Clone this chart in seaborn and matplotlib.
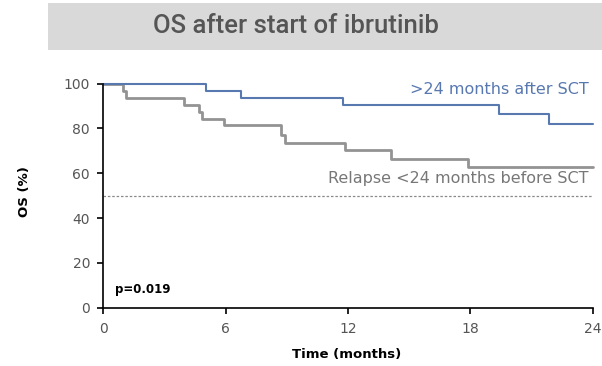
import matplotlib
matplotlib.use("Agg")
import matplotlib.pyplot as plt
import seaborn as sns
import pandas as pd
from matplotlib.patches import Rectangle

# Data
blue_time = [0, 5.05, 6.75, 11.75, 19.4, 21.85, 24]
blue_surv = [100, 96.9, 93.5, 90.3, 86.4, 81.8, 81.8]
gray_time = [0, 0.97, 1.1, 3.96, 4.7, 4.85, 5.9, 8.7, 8.9, 11.85, 14.1, 17.9, 24]
gray_surv = [100, 96.9, 93.5, 90.5, 87.5, 84.1, 81.4, 77.1, 73.7, 70.5, 66.6, 62.9, 62.9]
x_ticks = [0, 6, 12, 18, 24]
y_ticks = [0, 20, 40, 60, 80, 100]
label_blue = ">24 months after SCT"
label_gray = "Relapse <24 months before SCT"
title = "OS after start of ibrutinib"
p_text = "p=0.019"

sns.set_theme(style="white")
plt.rcParams['font.family'] = ['DejaVu Sans']

df_blue = pd.DataFrame({"time": blue_time, "os": blue_surv})
df_gray = pd.DataFrame({"time": gray_time, "os": gray_surv})

W, H = 602, 366
fig = plt.figure(figsize=(W / 100, H / 100), dpi=100)
ax = fig.add_axes([103.3 / W, 58.3 / H, 489.4 / W, 224 / H])

# title box
fig.patches.append(Rectangle((48 / W, 316 / H), (W - 48) / W, 47 / H,
                             transform=fig.transFigure, facecolor="#d9d9d9",
                             edgecolor="none", zorder=0))
fig.text(296 / W, (H - 26) / H, title, ha="center", va="center",
         fontsize=18.5, fontweight="medium", color="#555555",
         family=["Roboto", "DejaVu Sans"])

sns.lineplot(data=df_gray, x="time", y="os", ax=ax, drawstyle="steps-post",
             estimator=None, color="#939393", linewidth=2.0, clip_on=False)
sns.lineplot(data=df_blue, x="time", y="os", ax=ax, drawstyle="steps-post",
             estimator=None, color="#5878b0", linewidth=1.5, clip_on=False)

ax.axhline(50, color="#8a8a8a", linestyle=(0, (2, 1.5)), linewidth=0.9)

ax.set_xlim(0, 24)
ax.set_ylim(0, 100)
ax.set_xticks(x_ticks)
ax.set_yticks(y_ticks)
ax.tick_params(axis="both", direction="out", length=4.5, width=1.2,
               color="black", labelsize=10, labelcolor="#555555", pad=5,
               bottom=True, left=True)
ax.tick_params(axis="x", pad=6)
for s in ["top", "right"]:
    ax.spines[s].set_visible(False)
for s in ["left", "bottom"]:
    ax.spines[s].set_color("black")
    ax.spines[s].set_linewidth(1.2)

ax.set_xlabel("Time (months)", fontsize=9.5, fontweight="bold", color="black")
ax.set_ylabel("OS (%)", fontsize=9.5, fontweight="bold", color="black")
ax.xaxis.set_label_coords(0.498, -0.182)
ax.yaxis.set_label_coords(-0.148, 0.52)

ax.text(23.8, 97.6, label_blue, ha="right", va="center", fontsize=11.5,
        color="#5878b0")
ax.text(23.8, 57.9, label_gray, ha="right", va="center", fontsize=11.5,
        color="#777777")
ax.text(0.55, 8, p_text, ha="left", va="center", fontsize=8.5,
        fontweight="bold", color="black")

fig.savefig("out.png", dpi=100)
